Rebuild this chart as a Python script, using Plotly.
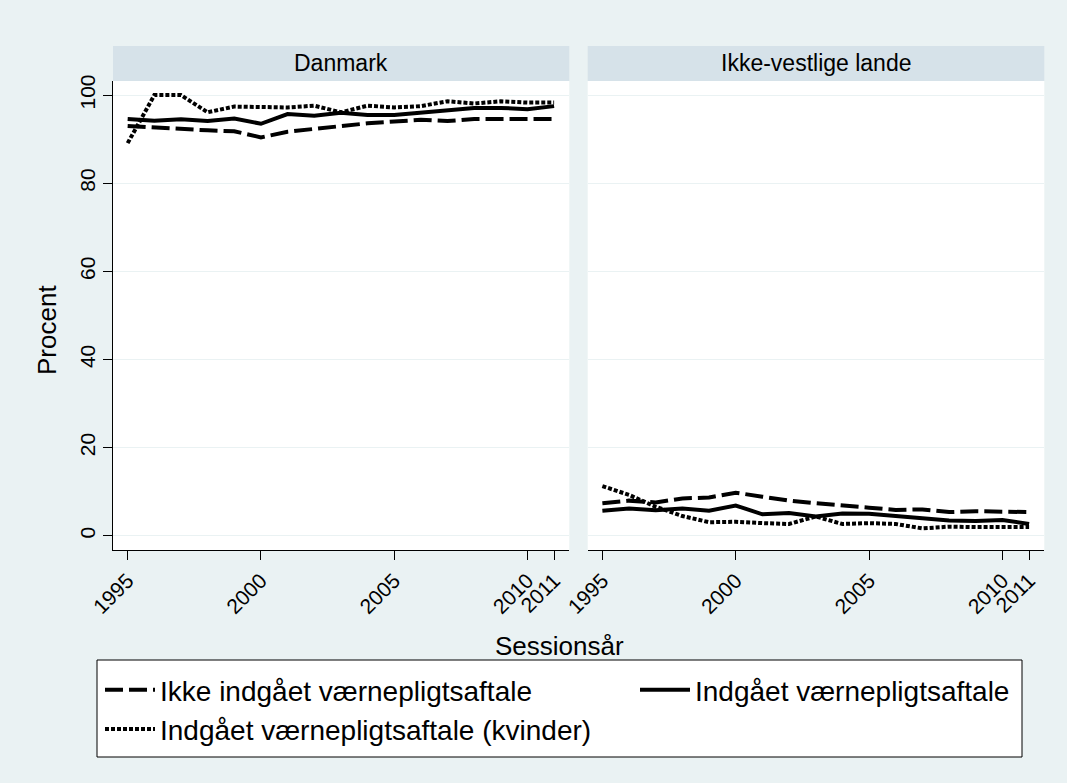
import plotly.graph_objects as go

years = list(range(1995, 2012))

# Danmark
dk_ikke = [93.0, 92.6, 92.4, 92.0, 91.8, 90.4, 91.7, 92.4, 93.0, 93.6, 94.0, 94.4, 94.1, 94.6, 94.6, 94.6, 94.6]
dk_indg = [94.6, 94.2, 94.5, 94.1, 94.7, 93.5, 95.7, 95.3, 96.0, 95.5, 95.5, 96.0, 96.5, 97.1, 97.1, 96.8, 97.5]
dk_kvinder = [89.1, 100.0, 100.0, 96.1, 97.4, 97.2, 97.2, 97.6, 96.1, 97.6, 97.2, 97.5, 98.6, 98.1, 98.6, 98.3, 98.3]

# Ikke-vestlige lande
iv_ikke = [7.4, 8.0, 7.6, 8.5, 8.7, 9.8, 8.9, 8.0, 7.4, 6.8, 6.4, 5.9, 6.0, 5.4, 5.6, 5.5, 5.4]
iv_indg = [5.7, 6.2, 5.8, 6.2, 5.7, 6.9, 4.9, 5.2, 4.4, 5.1, 5.0, 4.5, 4.0, 3.5, 3.4, 3.6, 2.7]
iv_kvinder = [11.3, 9.3, 6.6, 4.5, 3.1, 3.2, 2.9, 2.7, 4.4, 2.7, 2.9, 2.7, 1.7, 2.1, 2.0, 2.1, 2.0]

panels = ['Danmark', 'Ikke-vestlige lande']
series_names = ['Ikke indgået værnepligtsaftale', 'Indgået værnepligtsaftale',
                'Indgået værnepligtsaftale (kvinder)']
x_ticks = [1995, 2000, 2005, 2010, 2011]
y_ticks = [0, 20, 40, 60, 80, 100]

W, H = 1067, 783
BG = '#eaf2f3'
STRIP = '#d6e2e9'
GRID = '#eaf2f3'
FONT = 'Liberation Sans, Arial, sans-serif'

dashes = ['18px,6px', 'solid', '4px,2px']
data = [[dk_ikke, dk_indg, dk_kvinder], [iv_ikke, iv_indg, iv_kvinder]]

fig = go.Figure()
for p, panel_data in enumerate(data):
    for s, vals in enumerate(panel_data):
        fig.add_trace(go.Scatter(
            x=years, y=vals, mode='lines', name=series_names[s],
            line=dict(color='black', width=4, dash=dashes[s]),
            xaxis='x' if p == 0 else 'x2', yaxis='y' if p == 0 else 'y2',
            showlegend=(p == 0),
        ))

x_dom = [[113 / W, 569.3 / W], [587.7 / W, 1044.3 / W]]
y_dom = [1 - 550 / H, 1 - 81 / H]

xax = dict(range=[1994.45, 2011.57], tickvals=x_ticks, tickangle=-45,
           ticks='outside', ticklen=9, tickcolor='black', showline=True,
           linecolor='black', linewidth=1, showgrid=False, zeroline=False,
           automargin=False, tickfont=dict(size=21, color='black'))
yax = dict(range=[-3.2, 103.2], tickvals=y_ticks, gridcolor=GRID, gridwidth=1,
           zeroline=False, automargin=False)

fig.update_layout(
    width=W, height=H,
    paper_bgcolor=BG, plot_bgcolor='white',
    font=dict(family=FONT, color='black'),
    margin=dict(l=0, r=0, t=0, b=0, autoexpand=False),
    xaxis=dict(xax, domain=x_dom[0], anchor='y'),
    xaxis2=dict(xax, domain=x_dom[1], anchor='y2'),
    yaxis=dict(yax, domain=y_dom, anchor='x', ticks='outside', ticklen=9,
               tickcolor='black', tickangle=-90, showline=True, linecolor='black',
               linewidth=1, tickfont=dict(size=21, color='black')),
    yaxis2=dict(yax, domain=y_dom, anchor='x2', matches='y', showticklabels=False,
                showline=False),
    legend=dict(orientation='h', x=100 / W, xanchor='left', y=1 - 665 / H,
                yanchor='top', font=dict(size=28), bgcolor='rgba(0,0,0,0)',
                itemwidth=50, entrywidth=470, entrywidthmode='pixels',
                tracegroupgap=0),
    showlegend=True,
)

shapes = [dict(type='rect', xref='paper', yref='paper', x0=97 / W, x1=1022 / W,
               y0=1 - 757 / H, y1=1 - 660 / H, fillcolor='white',
               line=dict(color='black', width=1), layer='below')]
annotations = []
for p, name in enumerate(panels):
    shapes.append(dict(type='rect', xref='paper', yref='paper', x0=x_dom[p][0],
                       x1=x_dom[p][1], y0=1 - 81 / H, y1=1 - 46 / H,
                       fillcolor=STRIP, line=dict(width=0), layer='below'))
    annotations.append(dict(text=name, xref='paper', yref='paper',
                            x=(x_dom[p][0] + x_dom[p][1]) / 2, y=1 - 63.5 / H,
                            showarrow=False, font=dict(size=23),
                            xanchor='center', yanchor='middle'))

annotations.append(dict(text='Sessionsår', xref='paper', yref='paper', x=559 / W,
                        y=1 - 646 / H, showarrow=False, font=dict(size=26),
                        xanchor='center', yanchor='middle'))
annotations.append(dict(text='Procent', xref='paper', yref='paper', x=47 / W,
                        y=1 - 330 / H, showarrow=False, font=dict(size=26),
                        textangle=-90, xanchor='center', yanchor='middle'))

fig.update_layout(shapes=shapes, annotations=annotations)

# page margin off so the figure sits at the window's top-left corner
fig.write_html('out.html', config={'displayModeBar': False},
               post_script="document.body.style.margin='0';")
